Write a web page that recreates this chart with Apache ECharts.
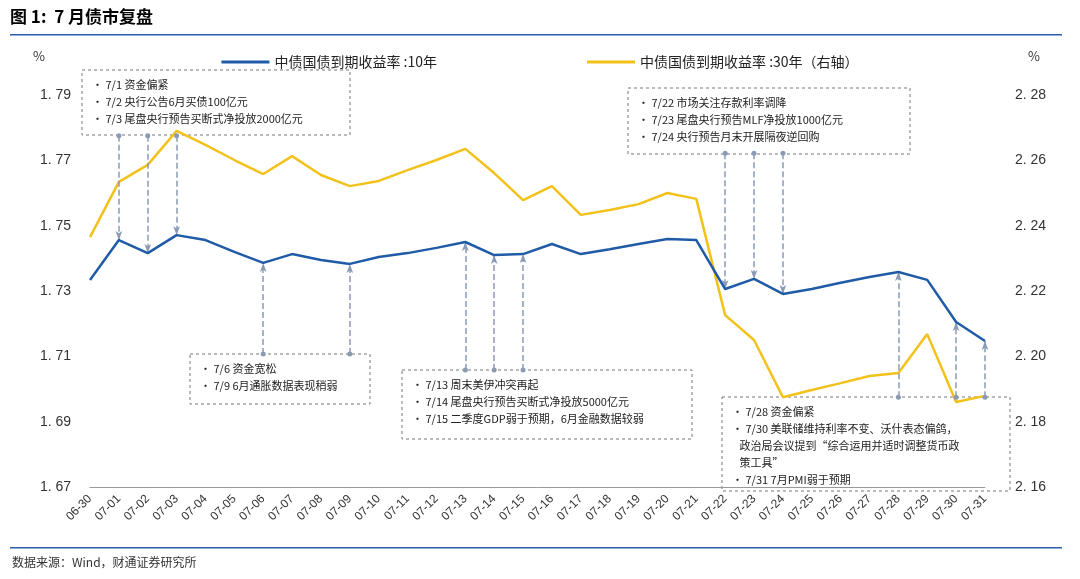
<!DOCTYPE html>
<html><head><meta charset="utf-8">
<script src="https://cdn.jsdelivr.net/npm/echarts@6/dist/echarts.min.js"></script>
<style>html,body{margin:0;background:#fff}#c{width:1080px;height:579px}</style>
</head><body><div id="c"></div>
<script>
const dates = ['06-30','07-01','07-02','07-03','07-04','07-05','07-06','07-07','07-08','07-09','07-10','07-11','07-12','07-13','07-14','07-15','07-16','07-17','07-18','07-19','07-20','07-21','07-22','07-23','07-24','07-25','07-26','07-27','07-28','07-29','07-30','07-31']
const y10 = [1.7334,1.7456,1.7416,1.7471,1.7456,1.742,1.7386,1.7413,1.7395,1.7383,1.7404,1.7416,1.7432,1.745,1.741,1.7413,1.7444,1.7413,1.7428,1.7444,1.7459,1.7456,1.7306,1.7337,1.7291,1.7306,1.7325,1.7343,1.7358,1.7334,1.7205,1.7147]
const y30 = [2.2365,2.2534,2.2586,2.269,2.2647,2.2601,2.2558,2.2613,2.2555,2.2521,2.2537,2.257,2.2601,2.2635,2.2561,2.2478,2.2521,2.2433,2.2448,2.2466,2.25,2.2482,2.2126,2.205,2.1875,2.1897,2.1918,2.194,2.1949,2.2068,2.186,2.1879]
const leftTicks = [1.67,1.69,1.71,1.73,1.75,1.77,1.79]
const rightTicks = [2.16,2.18,2.20,2.22,2.24,2.26,2.28]
// arrows: [date, y where the arrow starts (left axis)]
const arrows = [['07-01',1.7775],['07-02',1.7775],['07-03',1.7775],['07-06',1.7107],['07-09',1.7107],
  ['07-13',1.7058],['07-14',1.7058],['07-15',1.7058],['07-22',1.7722],['07-23',1.7722],['07-24',1.7722],
  ['07-28',1.6975],['07-30',1.6975],['07-31',1.6975]]
const boxes = [
  {x:82,y:70,w:268,h:65,lines:['• 7/1 资金偏紧','• 7/2 央行公告6月买债100亿元','• 7/3 尾盘央行预告买断式净投放2000亿元']},
  {x:190,y:354,w:180,h:50,lines:['• 7/6 资金宽松','• 7/9 6月通胀数据表现稍弱']},
  {x:402,y:370,w:290,h:69,lines:['• 7/13 周末美伊冲突再起','• 7/14 尾盘央行预告买断式净投放5000亿元','• 7/15 二季度GDP弱于预期，6月金融数据较弱']},
  {x:628,y:88,w:282,h:66,lines:['• 7/22 市场关注存款利率调降','• 7/23 尾盘央行预告MLF净投放1000亿元','• 7/24 央行预告月末开展隔夜逆回购']},
  {x:722,y:397,w:288,h:94,lines:['• 7/28 资金偏紧','• 7/30 美联储维持利率不变、沃什表态偏鸽，','   政治局会议提到“综合运用并适时调整货币政','   策工具”','• 7/31 7月PMI弱于预期']}
]
const fmt = v => v.toFixed(2).replace('.', '. ')
const graphic = [
  {type:'text',left:10,top:8,style:{text:'图 1:  7 月债市复盘',font:'bold 17px "Noto Sans CJK SC"',fill:'#000'}},
  {type:'rect',shape:{x:10,y:34,width:1052,height:1.5},style:{fill:'#2a5caa'}},
  {type:'rect',shape:{x:10,y:547,width:1052,height:1.5},style:{fill:'#2a5caa'}},
  {type:'text',left:12,top:556,style:{text:'数据来源：Wind，财通证券研究所',font:'12px "Noto Sans CJK SC"',fill:'#333'}},
  {type:'text',left:33,top:50,style:{text:'%',font:'13px "Noto Sans CJK SC"',fill:'#333'}},
  {type:'text',left:1028,top:50,style:{text:'%',font:'13px "Noto Sans CJK SC"',fill:'#333'}}
]
boxes.forEach(b => {
  graphic.push({type:'rect',z:0,shape:{x:b.x,y:b.y,width:b.w,height:b.h},style:{fill:'rgba(255,255,255,0.6)',stroke:'#777',lineDash:[3,3],lineWidth:1}})
  graphic.push({type:'text',z:11,left:b.x+10,top:b.y+6,style:{text:b.lines.join('\n'),font:'11px "Noto Sans CJK SC"',lineHeight:17,fill:'#222'}})
})
const chart = echarts.init(document.getElementById('c'))
chart.setOption({
  animation:false,
  graphic,
  legend:{top:50,left:'center',itemGap:150,itemWidth:48,itemHeight:3,icon:'rect',
    textStyle:{fontSize:14,color:'#222',fontFamily:'Noto Sans CJK SC'}},
  grid:{left:90,right:95,top:95,bottom:92},
  xAxis:{type:'category',data:dates,boundaryGap:false,
    axisLine:{lineStyle:{color:'#999'}},axisTick:{show:false},
    axisLabel:{rotate:45,color:'#333',fontSize:12,interval:0,margin:10}},
  yAxis:[
    {type:'value',min:1.67,max:1.79,interval:0.02,splitLine:{show:false},axisLine:{show:false},axisTick:{show:false},
      axisLabel:{formatter:fmt,color:'#333',fontSize:14,margin:50,align:'left'}},
    {type:'value',min:2.16,max:2.28,interval:0.02,splitLine:{show:false},axisLine:{show:false},axisTick:{show:false},
      axisLabel:{formatter:fmt,color:'#333',fontSize:14,margin:30}}
  ],
  series:[
    {name:'中债国债到期收益率 :10年',type:'line',data:y10,symbol:'none',z:5,
      lineStyle:{color:'#1f5ba6',width:2.5},itemStyle:{color:'#1f5ba6'},
      markLine:{silent:true,symbol:['circle','arrow'],symbolSize:[5,9],label:{show:false},
        lineStyle:{color:'#8a9ab5',type:'dashed',width:1.5},
        data:arrows.map(a => [{coord:[a[0],a[1]]},{coord:[a[0],y10[dates.indexOf(a[0])]]}])}},
    {name:'中债国债到期收益率 :30年（右轴）',type:'line',yAxisIndex:1,data:y30,symbol:'none',
      lineStyle:{color:'#f2c21b',width:2.5},itemStyle:{color:'#f2c21b'}}
  ]
})
</script></body></html>
